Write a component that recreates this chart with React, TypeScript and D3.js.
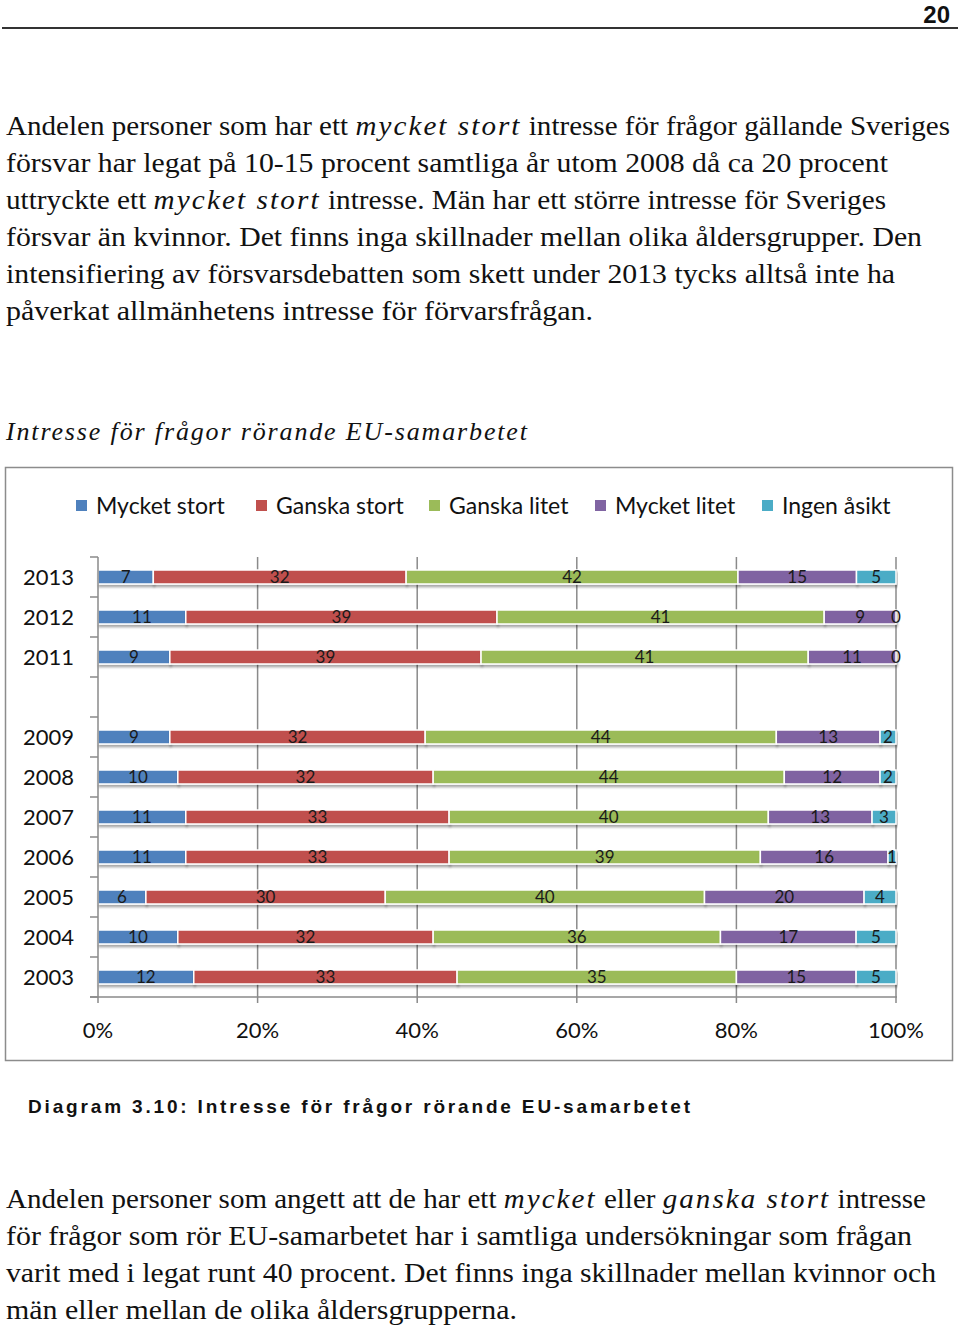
import React from "react";
import * as d3 from "d3";

// ---------- data ----------
const categories = ["2013", "2012", "2011", "", "2009", "2008", "2007", "2006", "2005", "2004", "2003"];
const seriesNames = ["Mycket stort", "Ganska stort", "Ganska litet", "Mycket litet", "Ingen åsikt"];
const mycketStort = [7, 11, 9, null, 9, 10, 11, 11, 6, 10, 12];
const ganskaStort = [32, 39, 39, null, 32, 32, 33, 33, 30, 32, 33];
const ganskaLitet = [42, 41, 41, null, 44, 44, 40, 39, 40, 36, 35];
const mycketLitet = [15, 9, 11, null, 13, 12, 13, 16, 20, 17, 15];
const ingenAsikt = [5, 0, 0, null, 2, 2, 3, 1, 4, 5, 5];
const xTicks = [0, 0.2, 0.4, 0.6, 0.8, 1];
const colors = ["#4F81BD", "#C0504D", "#9BBB59", "#8064A2", "#4BACC6"];

const seriesValues = [mycketStort, ganskaStort, ganskaLitet, mycketLitet, ingenAsikt];

// ---------- text ----------
type Seg = { t: string; it?: boolean };
const topPara: { segs: Seg[]; w?: number }[] = [
  { segs: [{ t: "Andelen personer som har ett " }, { t: "mycket stort", it: true }, { t: " intresse för frågor gällande Sveriges" }], w: 944 },
  { segs: [{ t: "försvar har legat på 10-15 procent samtliga år utom 2008 då ca 20 procent" }], w: 882 },
  { segs: [{ t: "uttryckte ett " }, { t: "mycket stort", it: true }, { t: " intresse. Män har ett större intresse för Sveriges" }], w: 880 },
  { segs: [{ t: "försvar än kvinnor. Det finns inga skillnader mellan olika åldersgrupper. Den" }], w: 916 },
  { segs: [{ t: "intensifiering av försvarsdebatten som skett under 2013 tycks alltså inte ha" }], w: 889 },
  { segs: [{ t: "påverkat allmänhetens intresse för förvarsfrågan." }], w: 587 },
];
const bottomPara: { segs: Seg[]; w?: number }[] = [
  { segs: [{ t: "Andelen personer som angett att de har ett " }, { t: "mycket", it: true }, { t: " eller " }, { t: "ganska stort", it: true }, { t: " intresse" }], w: 920 },
  { segs: [{ t: "för frågor som rör EU-samarbetet har i samtliga undersökningar som frågan" }], w: 906 },
  { segs: [{ t: "varit med i legat runt 40 procent. Det finns inga skillnader mellan kvinnor och" }], w: 930 },
  { segs: [{ t: "män eller mellan de olika åldersgrupperna." }], w: 511 },
];

const SERIF = "'Liberation Serif', 'DejaVu Serif', serif";
const SANS = "Lato, 'Open Sans', sans-serif";

function Para({ lines, y0, dy }: { lines: { segs: Seg[]; w?: number }[]; y0: number; dy: number }) {
  return (
    <g>
      {lines.map((l, i) => (
        <text
          key={i}
          x={6}
          y={y0 + i * dy}
          fontFamily={SERIF}
          fontSize={28}
          fill="#111"
          textLength={l.w}
          lengthAdjust="spacingAndGlyphs"
        >
          {l.segs.map((s, j) => (
            <tspan key={j} fontStyle={s.it ? "italic" : "normal"} letterSpacing={s.it ? 2 : 0}>
              {s.t}
            </tspan>
          ))}
        </text>
      ))}
    </g>
  );
}

export default function App() {
  const rows = categories.map((c, i) => {
    const r: any = { cat: c };
    seriesNames.forEach((s, k) => (r[s] = seriesValues[k][i] ?? 0));
    return r;
  });
  const stacked = d3.stack<any>().keys(seriesNames).offset(d3.stackOffsetExpand)(rows);

  const x = d3.scaleLinear().domain([0, 1]).range([98, 896]);
  const y = d3.scaleBand<string>().domain(categories).range([557, 997]).paddingInner(0.65).paddingOuter(0.325);
  const step = y.step();
  const bw = y.bandwidth();
  const boundaries = d3.range(categories.length + 1).map((i) => 557 + i * step);
  const legendX = [76, 256, 429, 595, 762];
  const fmtPct = d3.format(".0%");

  return (
    <div style={{ position: "absolute", left: 0, top: 0 }}>
      <svg width={960} height={1327} style={{ display: "block", background: "#fff" }}>
        <defs>
          <filter id="sh" x="-5%" y="-50%" width="110%" height="250%">
            <feDropShadow dx="1" dy="2.5" stdDeviation="1.2" floodColor="#000" floodOpacity="0.35" />
          </filter>
        </defs>
        {/* page header */}
        <text x={950} y={23} textAnchor="end" fontFamily="'Liberation Sans Narrow', 'Liberation Sans', Arial, sans-serif" fontWeight="bold" fontSize={24} fill="#111">
          20
        </text>
        <line x1={2} x2={958} y1={28} y2={28} stroke="#333" strokeWidth={2} />

        <Para lines={topPara} y0={135} dy={37} />

        {/* chart title */}
        <text x={6} y={440} fontFamily={SERIF} fontStyle="italic" fontSize={26} fill="#111" textLength={521} lengthAdjust="spacing">
          Intresse för frågor rörande EU-samarbetet
        </text>

        {/* chart frame */}
        <rect x={5.5} y={467.5} width={947} height={593} fill="#fff" stroke="#8c8c8c" strokeWidth={1.5} />

        {/* legend */}
        {seriesNames.map((s, i) => (
          <g key={s}>
            <rect x={legendX[i]} y={500} width={11} height={11} fill={colors[i]} />
            <text x={legendX[i] + 20} y={514} fontFamily={SANS} fontSize={23} fill="#111">
              {s}
            </text>
          </g>
        ))}

        {/* gridlines */}
        {xTicks.slice(1).map((t) => (
          <line key={t} x1={x(t)} x2={x(t)} y1={557} y2={1003} stroke="#8a8a8a" strokeWidth={1.5} />
        ))}

        {/* bars */}
        {stacked.map((layer, k) => (
          <g key={layer.key} filter="url(#sh)">
            {layer.map((d, i) => {
              const c = categories[i];
              if (seriesValues[k][i] == null) return null;
              return (
                <rect
                  key={c}
                  x={x(d[0])}
                  y={y(c)!}
                  width={Math.max(0, x(d[1]) - x(d[0]))}
                  height={bw}
                  fill={colors[k]}
                  stroke="#fff"
                  strokeWidth={1.5}
                />
              );
            })}
          </g>
        ))}
        {/* data labels */}
        {stacked.map((layer, k) => (
          <g key={layer.key + "l"}>
            {layer.map((d, i) => {
              const c = categories[i];
              const v = seriesValues[k][i];
              if (v == null) return null;
              return (
                <text
                  key={c}
                  x={x((d[0] + d[1]) / 2)}
                  y={y(c)! + bw / 2}
                  dy="0.38em"
                  textAnchor="middle"
                  fontFamily={SANS}
                  fontSize={17}
                  fill="#1a1a1a"
                >
                  {v}
                </text>
              );
            })}
          </g>
        ))}

        {/* y axis */}
        <line x1={98} x2={98} y1={557} y2={997} stroke="#8a8a8a" strokeWidth={1.5} />
        {boundaries.map((b) => (
          <line key={b} x1={90} x2={98} y1={b} y2={b} stroke="#8a8a8a" strokeWidth={1.5} />
        ))}
        {categories.map((c) =>
          c ? (
            <text key={c} x={74} y={y(c)! + bw / 2} dy="0.36em" textAnchor="end" fontFamily={SANS} fontSize={22} fill="#111">
              {c}
            </text>
          ) : null
        )}
        {/* x axis */}
        <line x1={90} x2={897} y1={997} y2={997} stroke="#8a8a8a" strokeWidth={1.5} />
        <line x1={98} x2={98} y1={997} y2={1003} stroke="#8a8a8a" strokeWidth={1.5} />
        {xTicks.map((t) => (
          <text key={t} x={x(t)} y={1038} textAnchor="middle" fontFamily={SANS} fontSize={22} fill="#111">
            {fmtPct(t)}
          </text>
        ))}

        {/* caption */}
        <text x={28} y={1113} fontFamily="'Liberation Sans', Arial, sans-serif" fontWeight="bold" fontSize={19} fill="#111" textLength={662} lengthAdjust="spacing">
          Diagram 3.10: Intresse för frågor rörande EU-samarbetet
        </text>

        <Para lines={bottomPara} y0={1208} dy={37} />
      </svg>
    </div>
  );
}
